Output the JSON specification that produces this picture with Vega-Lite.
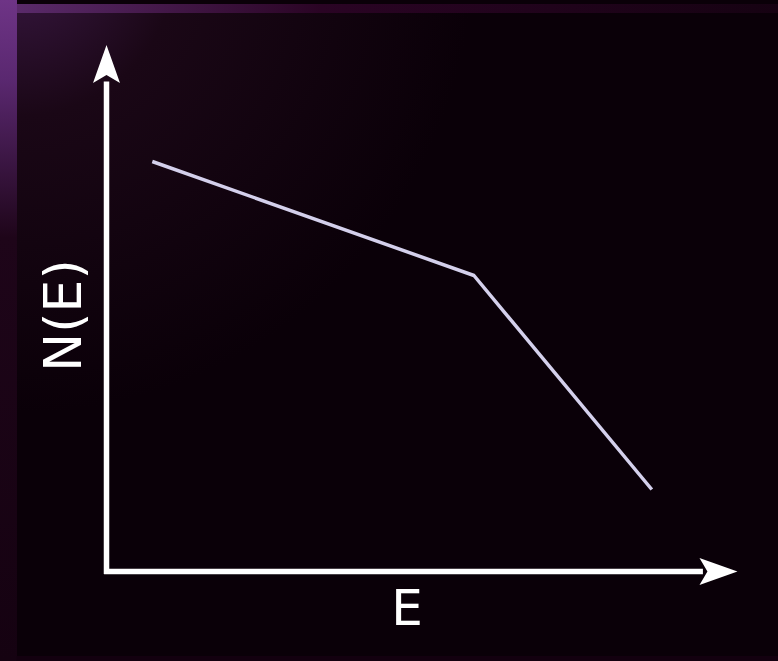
{
  "$schema": "https://vega.github.io/schema/vega-lite/v6.json",
  "width": 778,
  "height": 661,
  "padding": 0,
  "autosize": {"type": "fit", "contains": "padding"},
  "background": "#0a0008",
  "config": {"view": {"stroke": null}},
  "layer": [
    {
      "data": {"values": [{"x": -0.8404, "x2": 6.305, "y": -0.895, "y2": 5.585}]},
      "mark": {
        "type": "rect",
        "fill": {
          "gradient": "radial",
          "x1": 0, "y1": 0, "r1": 0,
          "x2": 0, "y2": 0, "r2": 0.6,
          "stops": [
            {"offset": 0, "color": "#3a1844"},
            {"offset": 0.35, "color": "#1a0716"},
            {"offset": 1, "color": "#0a0008"}
          ]
        }
      },
      "encoding": {
        "x": {"field": "x", "type": "quantitative", "scale": {"domain": [-1, 6.305], "nice": false, "zero": false}, "axis": null},
        "x2": {"field": "x2"},
        "y": {"field": "y", "type": "quantitative", "scale": {"domain": [-0.895, 5.715], "nice": false, "zero": false}, "axis": null},
        "y2": {"field": "y2"}
      }
    },
    {
      "data": {"values": [{"x": -1, "x2": -0.8404, "y": -0.895, "y2": 5.715}]},
      "mark": {
        "type": "rect",
        "fill": {
          "gradient": "linear",
          "x1": 0, "y1": 0, "x2": 0, "y2": 1,
          "stops": [
            {"offset": 0, "color": "#6e3486"},
            {"offset": 0.12, "color": "#5a2870"},
            {"offset": 0.36, "color": "#1e0519"},
            {"offset": 1, "color": "#150211"}
          ]
        }
      },
      "encoding": {
        "x": {"field": "x", "type": "quantitative", "scale": {"domain": [-1, 6.305], "nice": false, "zero": false}, "axis": null},
        "x2": {"field": "x2"},
        "y": {"field": "y", "type": "quantitative", "scale": {"domain": [-0.895, 5.715], "nice": false, "zero": false}, "axis": null},
        "y2": {"field": "y2"}
      }
    },
    {
      "data": {"values": [{"x": -0.8404, "x2": 6.305, "y": 5.585, "y2": 5.675}]},
      "mark": {
        "type": "rect",
        "fill": {
          "gradient": "linear",
          "x1": 0, "y1": 0, "x2": 1, "y2": 0,
          "stops": [
            {"offset": 0, "color": "#5a2a6a"},
            {"offset": 0.4, "color": "#2a0424"},
            {"offset": 1, "color": "#160212"}
          ]
        }
      },
      "encoding": {
        "x": {"field": "x", "type": "quantitative", "scale": {"domain": [-1, 6.305], "nice": false, "zero": false}, "axis": null},
        "x2": {"field": "x2"},
        "y": {"field": "y", "type": "quantitative", "scale": {"domain": [-0.895, 5.715], "nice": false, "zero": false}, "axis": null},
        "y2": {"field": "y2"}
      }
    },
    {
      "data": {"values": [{"x": -0.8404, "x2": 6.305, "y": -0.895, "y2": -0.845}]},
      "mark": {"type": "rect", "fill": "#13000f"},
      "encoding": {
        "x": {"field": "x", "type": "quantitative", "scale": {"domain": [-1, 6.305], "nice": false, "zero": false}, "axis": null},
        "x2": {"field": "x2"},
        "y": {"field": "y", "type": "quantitative", "scale": {"domain": [-0.895, 5.715], "nice": false, "zero": false}, "axis": null},
        "y2": {"field": "y2"}
      }
    },
    {
      "data": {"values": [
        {"x": 0, "x2": 0, "y": -0.025, "y2": 4.9},
        {"x": -0.023, "x2": 5.6, "y": 0, "y2": 0}
      ]},
      "mark": {"type": "rule", "color": "#ffffff", "strokeWidth": 5.5},
      "encoding": {
        "x": {"field": "x", "type": "quantitative", "scale": {"domain": [-1, 6.305], "nice": false, "zero": false}, "axis": null},
        "x2": {"field": "x2"},
        "y": {"field": "y", "type": "quantitative", "scale": {"domain": [-0.895, 5.715], "nice": false, "zero": false}, "axis": null},
        "y2": {"field": "y2"}
      }
    },
    {
      "data": {"values": [{"x": 0, "y": 5.075}]},
      "mark": {
        "type": "point",
        "shape": "M0,-1L0.71,1L0,0.58L-0.71,1Z",
        "size": 1444,
        "filled": true,
        "fill": "#ffffff",
        "strokeWidth": 0,
        "opacity": 1
      },
      "encoding": {
        "x": {"field": "x", "type": "quantitative", "scale": {"domain": [-1, 6.305], "nice": false, "zero": false}, "axis": null},
        "y": {"field": "y", "type": "quantitative", "scale": {"domain": [-0.895, 5.715], "nice": false, "zero": false}, "axis": null}
      }
    },
    {
      "data": {"values": [{"x": 5.746, "y": 0}]},
      "mark": {
        "type": "point",
        "shape": "M1,0L-1,-0.71L-0.58,0L-1,0.71Z",
        "size": 1444,
        "filled": true,
        "fill": "#ffffff",
        "strokeWidth": 0,
        "opacity": 1
      },
      "encoding": {
        "x": {"field": "x", "type": "quantitative", "scale": {"domain": [-1, 6.305], "nice": false, "zero": false}, "axis": null},
        "y": {"field": "y", "type": "quantitative", "scale": {"domain": [-0.895, 5.715], "nice": false, "zero": false}, "axis": null}
      }
    },
    {
      "data": {"values": [
        {"E": 0.43, "N": 4.1},
        {"E": 3.45, "N": 2.96},
        {"E": 5.12, "N": 0.82}
      ]},
      "mark": {"type": "line", "color": "#d4d0ec", "strokeWidth": 3.5, "strokeJoin": "round"},
      "encoding": {
        "x": {"field": "E", "type": "quantitative", "scale": {"domain": [-1, 6.305], "nice": false, "zero": false}, "axis": null},
        "y": {"field": "N", "type": "quantitative", "scale": {"domain": [-0.895, 5.715], "nice": false, "zero": false}, "axis": null}
      }
    },
    {
      "data": {"values": [{"x": 2.822, "y": -0.535, "label": "E"}]},
      "mark": {"type": "text", "font": "DejaVu Sans", "fontSize": 50, "color": "#ffffff", "align": "center", "baseline": "alphabetic"},
      "encoding": {
        "x": {"field": "x", "type": "quantitative", "scale": {"domain": [-1, 6.305], "nice": false, "zero": false}, "axis": null},
        "y": {"field": "y", "type": "quantitative", "scale": {"domain": [-0.895, 5.715], "nice": false, "zero": false}, "axis": null},
        "text": {"field": "label"}
      }
    },
    {
      "data": {"values": [{"x": -0.24, "y": 2.56, "label": "N(E)"}]},
      "mark": {"type": "text", "font": "DejaVu Sans", "fontSize": 52, "color": "#ffffff", "align": "center", "baseline": "alphabetic", "angle": 270},
      "encoding": {
        "x": {"field": "x", "type": "quantitative", "scale": {"domain": [-1, 6.305], "nice": false, "zero": false}, "axis": null},
        "y": {"field": "y", "type": "quantitative", "scale": {"domain": [-0.895, 5.715], "nice": false, "zero": false}, "axis": null},
        "text": {"field": "label"}
      }
    }
  ]
}
